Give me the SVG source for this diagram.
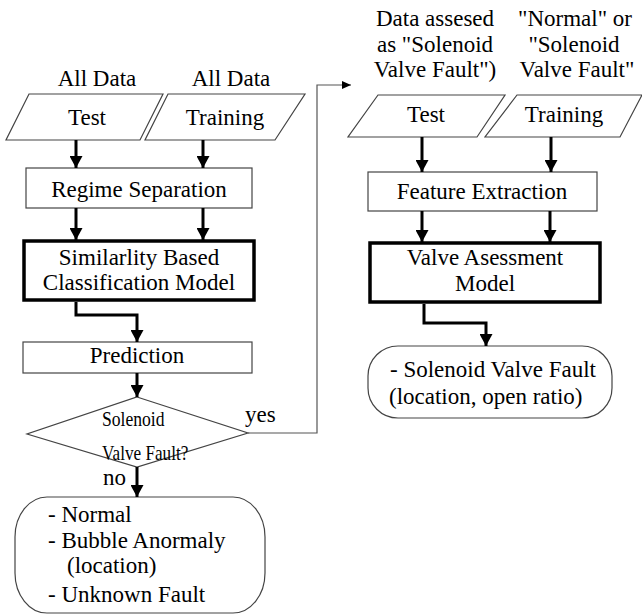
<svg xmlns="http://www.w3.org/2000/svg" width="642" height="615" viewBox="0 0 642 615">
  <style>
    text { font-family: "Liberation Serif", serif; font-size: 23px; fill: #000; }
    .c { text-anchor: middle; }
    .narrow { font-size: 20px; }
    .thin { fill: #fff; stroke: #444; stroke-width: 1.2; }
    .thick { fill: #fff; stroke: #000; stroke-width: 3.5; }
    .arrow { fill: none; stroke: #000; stroke-width: 3; marker-end: url(#head); }
    .link { fill: none; stroke: #555; stroke-width: 1.2; marker-end: url(#small); }
  </style>
  <defs>
    <marker id="head" markerUnits="userSpaceOnUse" markerWidth="13" markerHeight="13" refX="12" refY="6.5" orient="auto">
      <path d="M0,0 L12,6.5 L0,13 z" fill="#000"/>
    </marker>
    <marker id="small" markerUnits="userSpaceOnUse" markerWidth="10" markerHeight="8" refX="9" refY="4" orient="auto">
      <path d="M0,0 L9,4 L0,8 z" fill="#000"/>
    </marker>
  </defs>
  <rect width="642" height="615" fill="#fff"/>

  <!-- input labels -->
  <g id="labels">
    <text class="c" x="97" y="86">All Data</text>
    <text class="c" x="231" y="86">All Data</text>
    <text class="c" x="435" y="26">Data assesed</text>
    <text class="c" x="435" y="52">as "Solenoid</text>
    <text class="c" x="435" y="77">Valve Fault")</text>
    <text class="c" x="575" y="26">"Normal" or</text>
    <text class="c" x="574" y="52">"Solenoid</text>
    <text class="c" x="577" y="77">Valve Fault"</text>
  </g>

  <!-- classification stage -->
  <g id="test-left">
    <polygon class="thin" points="29,94 163,94 140,140 6,140"/>
    <text class="c" x="87" y="125">Test</text>
  </g>
  <g id="training-left">
    <polygon class="thin" points="168,94 305,94 275,140 145,140"/>
    <text class="c" x="225" y="125">Training</text>
  </g>
  <g id="regime-separation">
    <rect class="thin" x="26" y="168" width="226" height="40"/>
    <text class="c" x="139" y="197">Regime Separation</text>
  </g>
  <g id="similarity-model">
    <rect class="thick" x="24" y="241" width="230" height="59"/>
    <text class="c" x="139" y="265">Similarlity Based</text>
    <text class="c" x="139" y="290">Classification Model</text>
  </g>
  <g id="prediction">
    <rect class="thin" x="23" y="342" width="229" height="31"/>
    <text class="c" x="137" y="363">Prediction</text>
  </g>
  <g id="decision">
    <polygon class="thin" points="137,397 248,433 137,467 27,434"/>
    <!-- narrow lettering inside the diamond -->
    <text class="narrow" transform="translate(102,426) scale(0.88,1)">Solenoid</text>
    <text class="narrow" transform="translate(102,460) scale(0.86,1)">Valve Fault?</text>
  </g>
  <g id="result-left">
    <rect class="thin" x="15" y="497" width="250" height="116" rx="32" ry="40"/>
    <text x="48" y="522">- Normal</text>
    <text x="48" y="548">- Bubble Anormaly</text>
    <text x="67" y="573">(location)</text>
    <text x="48" y="602">- Unknown Fault</text>
  </g>

  <!-- valve assessment stage -->
  <g id="test-right">
    <polygon class="thin" points="378,95 505,95 477,137 348,137"/>
    <text class="c" x="426" y="122">Test</text>
  </g>
  <g id="training-right">
    <polygon class="thin" points="517,95 642,95 620,137 485,137"/>
    <text class="c" x="564" y="122">Training</text>
  </g>
  <g id="feature-extraction">
    <rect class="thin" x="368" y="172" width="229" height="39"/>
    <text class="c" x="482" y="199">Feature Extraction</text>
  </g>
  <g id="valve-model">
    <rect class="thick" x="370" y="243" width="230" height="59"/>
    <text class="c" x="485" y="265">Valve Asessment</text>
    <text class="c" x="485" y="291">Model</text>
  </g>
  <g id="result-right">
    <rect class="thin" x="368" y="346" width="244" height="72" rx="30" ry="30"/>
    <text x="390" y="377">- Solenoid Valve Fault</text>
    <text x="389" y="404">(location, open ratio)</text>
  </g>

  <!-- connectors -->
  <g id="connectors">
    <line class="arrow" x1="76" y1="140" x2="76" y2="168"/>
    <line class="arrow" x1="203" y1="140" x2="203" y2="168"/>
    <line class="arrow" x1="76" y1="208" x2="76" y2="240"/>
    <line class="arrow" x1="203" y1="208" x2="203" y2="240"/>
    <polyline class="arrow" points="76,302 76,315 137,315 137,342"/>
    <line class="arrow" x1="137" y1="373" x2="137" y2="397"/>
    <line class="arrow" x1="137" y1="467" x2="137" y2="497"/>
    <text x="103" y="485">no</text>
    <polyline class="link" points="248,433 317,433 317,85 351,85"/>
    <text x="245" y="422">yes</text>
    <line class="arrow" x1="422" y1="137" x2="422" y2="172"/>
    <line class="arrow" x1="551" y1="137" x2="551" y2="172"/>
    <line class="arrow" x1="422" y1="211" x2="422" y2="242"/>
    <line class="arrow" x1="550" y1="211" x2="550" y2="242"/>
    <polyline class="arrow" points="424,304 424,323 486,323 486,346"/>
  </g>
</svg>
